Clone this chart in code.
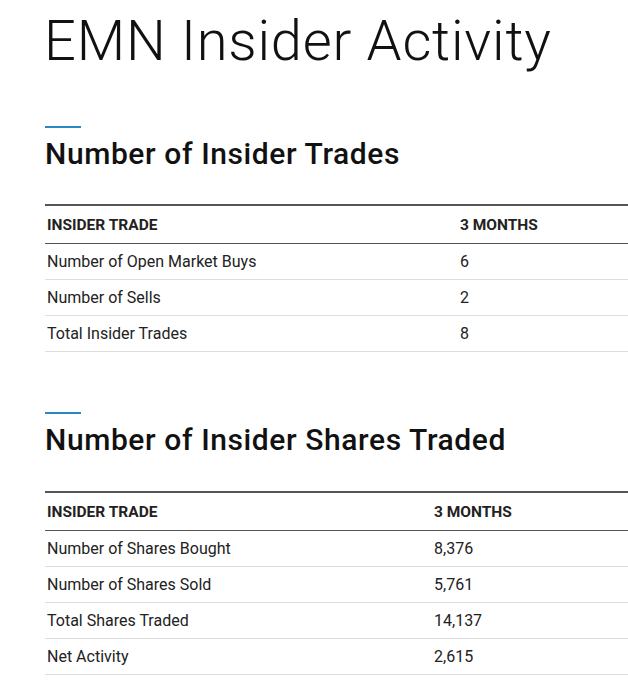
<!DOCTYPE html>
<html>
<head>
<meta charset="utf-8">
<script src="https://cdn.jsdelivr.net/npm/chart.js@4"></script>
<style>
  body { margin: 0; background: #fff; font-family: Roboto, sans-serif; color: #222; width: 628px; overflow: hidden; }
  h1 { font-weight: 300; font-size: 56px; margin: 0; position: absolute; left: 44px; top: 8px; letter-spacing: 0.8px; color: #111; }
  .sec { position: absolute; left: 45px; right: 0; }
  .bar { width: 36px; height: 2px; background: #2a86c4; }
  h2 { font-size: 30px; font-weight: 500; margin: 8px 0 0 0; color: #111; letter-spacing: 0.6px; }
  table { border-collapse: collapse; width: 583px; font-size: 16px; }
  th { text-align: left; font-weight: 700; font-size: 15.5px; height: 37px; border-top: 2px solid #555; border-bottom: 1px solid #555; padding: 0 2px; }
  td { height: 35px; border-bottom: 1px solid #ddd; padding: 0 2px; }
</style>
</head>
<body>
<h1>EMN Insider Activity</h1>
<div class="sec" style="top:126px"><div class="bar"></div><h2>Number of Insider Trades</h2>
  <table id="t1" style="margin-top:33px"></table></div>
<div class="sec" style="top:412px"><div class="bar"></div><h2>Number of Insider Shares Traded</h2>
  <table id="t2" style="margin-top:34px"></table></div>
<script>
const headers = ['INSIDER TRADE', '3 MONTHS'];
const tradeLabels = ['Number of Open Market Buys', 'Number of Sells', 'Total Insider Trades'];
const tradeValues = [6, 2, 8];
const shareLabels = ['Number of Shares Bought', 'Number of Shares Sold', 'Total Shares Traded', 'Net Activity'];
const shareValues = [8376, 5761, 14137, 2615];

function build(id, labels, values, colW) {
  const t = document.getElementById(id);
  let html = '<tr><th style="width:' + colW + 'px">' + headers[0] + '</th><th>' + headers[1] + '</th></tr>';
  labels.forEach((l, i) => {
    html += '<tr><td>' + l + '</td><td>' + values[i].toLocaleString('en-US') + '</td></tr>';
  });
  t.innerHTML = html;
}
build('t1', tradeLabels, tradeValues, 409);
build('t2', shareLabels, shareValues, 383);
</script>
</body>
</html>
